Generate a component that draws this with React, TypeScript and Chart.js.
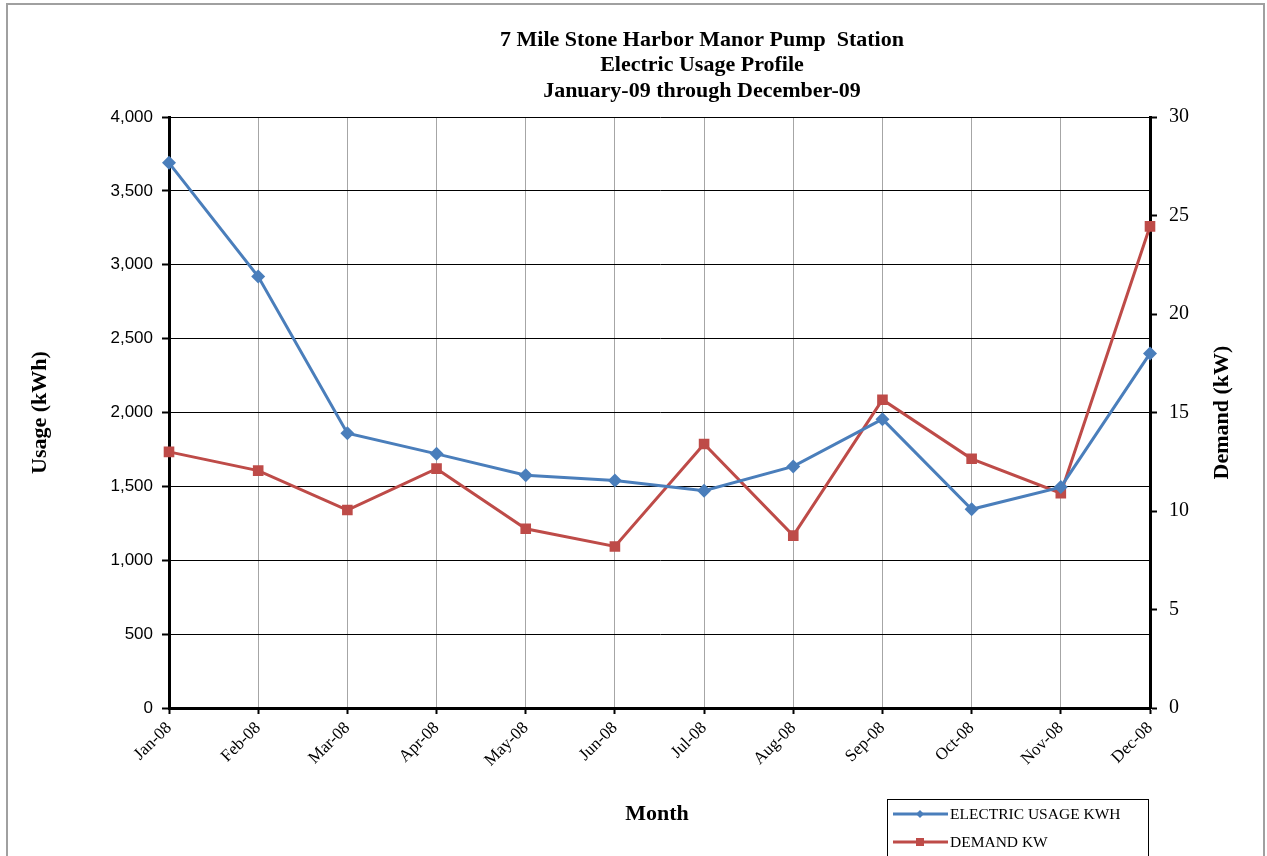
import React, { useEffect, useRef } from "react";
import { Chart, registerables } from "chart.js";

Chart.register(...registerables);

const months = ["Jan-08", "Feb-08", "Mar-08", "Apr-08", "May-08", "Jun-08", "Jul-08", "Aug-08", "Sep-08", "Oct-08", "Nov-08", "Dec-08"];
const usageKWh = [3690, 2920, 1860, 1720, 1575, 1540, 1470, 1635, 1955, 1345, 1495, 2400];
const demandKW = [13.0, 12.05, 10.05, 12.15, 9.1, 8.2, 13.4, 8.75, 15.65, 12.65, 10.9, 24.45];
const titleLines = ["7 Mile Stone Harbor Manor Pump  Station", "Electric Usage Profile", "January-09 through December-09"];
const usageLabel = "ELECTRIC USAGE KWH";
const demandLabel = "DEMAND KW";

const BLUE = "#4a7ebb";
const RED = "#be4b48";
const SERIF = "'Liberation Serif', 'Times New Roman', serif";
const SANS = "'Liberation Sans', Arial, sans-serif";

const decorPlugin = {
  id: "decor",
  beforeDraw(chart: any) {
    const { ctx, width } = chart;
    ctx.save();
    ctx.fillStyle = "#fff";
    ctx.fillRect(0, 0, chart.width, chart.height);
    ctx.strokeStyle = "#a0a0a0";
    ctx.lineWidth = 2;
    ctx.beginPath();
    ctx.moveTo(7, 900);
    ctx.lineTo(7, 4);
    ctx.lineTo(width - 3, 4);
    ctx.lineTo(width - 3, 900);
    ctx.stroke();
    ctx.restore();
  },
  afterDraw(chart: any) {
    const { ctx, chartArea } = chart;
    const ca = chartArea;
    const cx = (ca.left + ca.right) / 2;
    ctx.save();
    ctx.fillStyle = "#000";
    ctx.textAlign = "center";
    ctx.textBaseline = "middle";
    ctx.font = `bold 22px ${SERIF}`;
    titleLines.forEach((t, i) => ctx.fillText(t, 702, 40 + i * 25.5));

    // axis titles
    ctx.font = `bold 22px ${SERIF}`;
    ctx.fillText("Month", 657, 814);
    ctx.save();
    ctx.translate(40, (ca.top + ca.bottom) / 2);
    ctx.rotate(-Math.PI / 2);
    ctx.fillText("Usage (kWh)", 0, 0);
    ctx.restore();
    ctx.save();
    ctx.translate(1222, (ca.top + ca.bottom) / 2);
    ctx.rotate(-Math.PI / 2);
    ctx.fillText("Demand (kW)", 0, 0);
    ctx.restore();

    // legend
    const lx = 887, ly = 799;
    ctx.strokeStyle = "#000";
    ctx.lineWidth = 1;
    ctx.strokeRect(lx + 0.5, ly + 0.5, 261, 80);
    const rows = [
      { label: usageLabel, color: BLUE, shape: "diamond" },
      { label: demandLabel, color: RED, shape: "square" },
    ];
    ctx.font = `15.5px ${SERIF}`;
    ctx.textAlign = "left";
    rows.forEach((r, i) => {
      const y = 814 + i * 28;
      ctx.strokeStyle = r.color;
      ctx.lineWidth = 3;
      ctx.beginPath();
      ctx.moveTo(lx + 6, y);
      ctx.lineTo(lx + 61, y);
      ctx.stroke();
      ctx.fillStyle = r.color;
      const mx = lx + 33;
      if (r.shape === "diamond") {
        ctx.beginPath();
        ctx.moveTo(mx, y - 4);
        ctx.lineTo(mx + 4, y);
        ctx.lineTo(mx, y + 4);
        ctx.lineTo(mx - 4, y);
        ctx.closePath();
        ctx.fill();
      } else {
        ctx.fillRect(mx - 4, y - 4, 8, 8);
      }
      ctx.fillStyle = "#000";
      ctx.fillText(r.label, lx + 63, y + 1);
    });
    ctx.restore();
  },
};

export default function App() {
  const ref = useRef<HTMLCanvasElement>(null);
  useEffect(() => {
    document.body.style.margin = "0";
    const chart = new Chart(ref.current!, {
      type: "line",
      data: {
        labels: months,
        datasets: [
          {
            label: usageLabel,
            data: usageKWh,
            yAxisID: "y",
            borderColor: BLUE,
            backgroundColor: BLUE,
            borderWidth: 3,
            pointStyle: "rectRot",
            pointRadius: 7,
            pointBorderWidth: 0,
            tension: 0,
          },
          {
            label: demandLabel,
            data: demandKW,
            yAxisID: "y1",
            borderColor: RED,
            backgroundColor: RED,
            borderWidth: 3,
            pointStyle: "rect",
            pointRadius: 7.5,
            pointBorderWidth: 0,
            tension: 0,
          },
        ],
      },
      options: {
        animation: false,
        responsive: false,
        layout: { padding: { top: 117, left: 0, right: 0, bottom: 0 } },
        plugins: {
          legend: { display: false },
          title: { display: false },
          tooltip: { enabled: false },
        },
        scales: {
          x: {
            offset: false,
            afterFit: (s: any) => { s.height = 148; },
            grid: {
              color: "#a6a6a6",
              lineWidth: 1,
              drawTicks: true,
              tickLength: 6,
              tickColor: "#000",
              tickWidth: 2,
            },
            border: { display: true, color: "#000", width: 3 },
            ticks: {
              autoSkip: false,
              maxRotation: 45,
              minRotation: 45,
              color: "#000",
              font: { family: SERIF, size: 17 },
              padding: 4,
            },
          },
          y: {
            position: "left",
            min: 0,
            max: 4000,
            afterFit: (s: any) => { s.width = 169; },
            grid: {
              color: "#000",
              lineWidth: 1,
              tickLength: 7,
              tickColor: "#000",
              tickWidth: 2,
            },
            border: { display: true, color: "#000", width: 3 },
            ticks: {
              stepSize: 500,
              color: "#000",
              font: { family: SANS, size: 17 },
              padding: 9,
              callback: (v: any) => Number(v).toLocaleString("en-US"),
            },
          },
          y1: {
            position: "right",
            min: 0,
            max: 30,
            afterFit: (s: any) => { s.width = 117; },
            grid: {
              drawOnChartArea: false,
              tickLength: 7,
              tickColor: "#000",
              tickWidth: 2,
            },
            border: { display: true, color: "#000", width: 3 },
            ticks: {
              stepSize: 5,
              color: "#000",
              font: { family: SERIF, size: 20 },
              padding: 12,
            },
          },
        },
      },
      plugins: [decorPlugin],
    });
    return () => chart.destroy();
  }, []);
  return (
    <div style={{ position: "absolute", left: 0, top: 0, width: 1267, height: 856 }}>
      <canvas ref={ref} width={1267} height={856} style={{ display: "block" }} />
    </div>
  );
}
